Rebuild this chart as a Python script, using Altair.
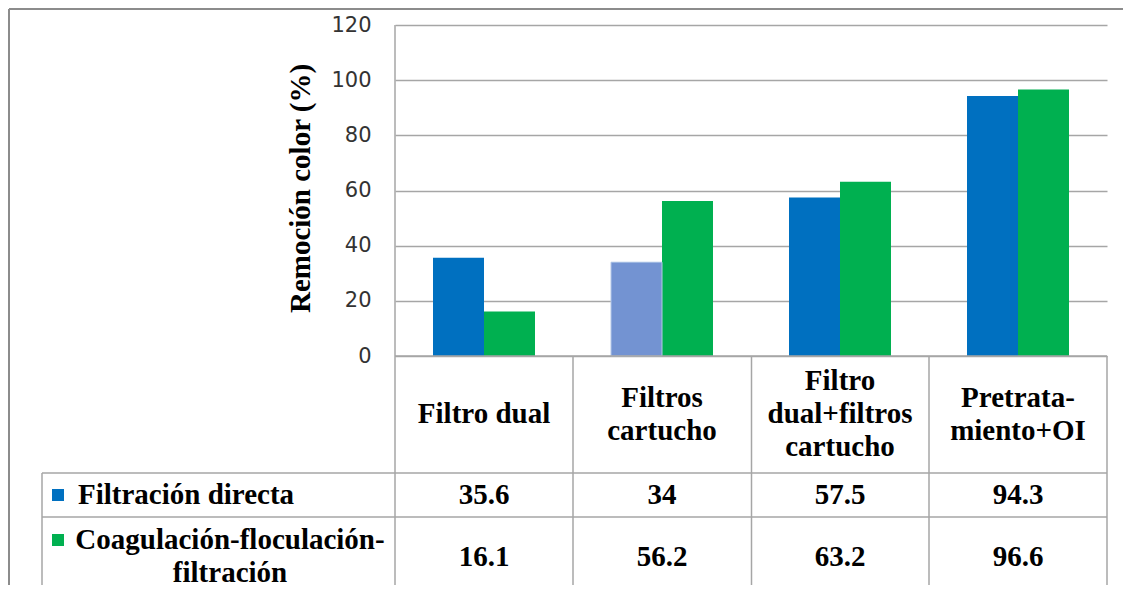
import altair as alt
import pandas as pd

categories = ["Filtro dual", "Filtros cartucho", "Filtro dual+filtros cartucho", "Pretratamiento+OI"]
header_labels = ["Filtro dual", "Filtros\ncartucho", "Filtro\ndual+filtros\ncartucho", "Pretrata-\nmiento+OI"]
series = ["Filtración directa", "Coagulación-floculación-filtración"]
series_labels = ["Filtración directa", "Coagulación-floculación-\nfiltración"]
filtracion_directa = [35.6, 34, 57.5, 94.3]
coagulacion = [16.1, 56.2, 63.2, 96.6]
y_ticks = [0, 20, 40, 60, 80, 100, 120]
colors = ["#0070C0", "#00B050"]

rows = []
for s, vals in zip(series, [filtracion_directa, coagulacion]):
    for c, v in zip(categories, vals):
        rows.append({"cat": c, "series": s, "value": v, "label": f"{v:g}"})
df = pd.DataFrame(rows)
hdr = pd.DataFrame({"cat": categories, "header": header_labels})
leg = pd.DataFrame({"series": series, "label": series_labels})
dummy = pd.DataFrame({"a": [0]})

SERIF = "Liberation Serif"
GRID = "#A6A6A6"
LINE_H = 33

xenc = alt.X("cat:N", scale=alt.Scale(domain=categories, paddingInner=0.427, paddingOuter=0.2135), axis=None)
xoff = alt.XOffset("series:N", scale=alt.Scale(domain=series, paddingInner=0, paddingOuter=0))
yenc = alt.Y(
    "value:Q",
    scale=alt.Scale(domain=[0, 120], nice=False),
    axis=alt.Axis(
        values=y_ticks, grid=True, gridColor=GRID, gridWidth=1.5, domain=False, ticks=False,
        labelFont="DejaVu Sans", labelFontSize=21, labelColor="#333333", labelPadding=24,
        title="Remoción color (%)", titleFont=SERIF, titleFontSize=29, titleFontWeight="bold",
        titleColor="black", titleX=-95, titleY=163, titleAlign="center", titleBaseline="middle",
        titleAngle=270,
    ),
)

bars = alt.Chart(df).mark_bar().encode(
    x=xenc, xOffset=xoff, y=yenc,
    color=alt.Color("series:N", scale=alt.Scale(domain=series, range=colors), legend=None),
)
patterned = alt.Chart(df).transform_filter(
    (alt.datum.cat == "Filtros cartucho") & (alt.datum.series == "Filtración directa")
).mark_bar(fill="#7393D2", stroke="#B4C7E7", strokeWidth=1).encode(x=xenc, xOffset=xoff, y="value:Q")

txt = dict(font=SERIF, fontSize=29, fontWeight="bold", color="black", baseline="middle")

headers = alt.Chart(hdr).transform_calculate(
    off="-(length(split(datum.header, '\\n')) - 1) * %f" % (LINE_H / 2)
).mark_text(lineBreak="\n", lineHeight=LINE_H, **txt).encode(
    x=xenc, y=alt.value(389), yOffset=alt.YOffset("off:Q", scale=None), text="header:N")
vals1 = alt.Chart(df).transform_filter(alt.datum.series == series[0]).mark_text(**txt).encode(
    x=xenc, y=alt.value(470), text="label:N")
vals2 = alt.Chart(df).transform_filter(alt.datum.series == series[1]).mark_text(**txt).encode(
    x=xenc, y=alt.value(532), text="label:N")

lab1 = alt.Chart(leg).transform_filter(alt.datum.series == series[0]).mark_text(align="left", **txt).encode(
    x=alt.value(-317), y=alt.value(470), text="label:N")
lab2 = alt.Chart(leg).transform_filter(alt.datum.series == series[1]).mark_text(
    align="center", lineBreak="\n", lineHeight=LINE_H, **txt).encode(
    x=alt.value(-165), y=alt.value(515), text="label:N")

mk1 = alt.Chart(dummy).mark_square(size=144, opacity=1, color=colors[0]).encode(
    x=alt.value(-337), y=alt.value(470))
mk2 = alt.Chart(dummy).mark_square(size=144, opacity=1, color=colors[1]).encode(
    x=alt.value(-337), y=alt.value(515))


def hline(y, x1, x2, color=GRID, w=1.5):
    return alt.Chart(dummy).mark_rule(color=color, strokeWidth=w).encode(
        x=alt.value(x1), x2=alt.value(x2), y=alt.value(y))


def vline(x, y1, y2, color=GRID, w=1.5):
    return alt.Chart(dummy).mark_rule(color=color, strokeWidth=w).encode(
        x=alt.value(x), y=alt.value(y1), y2=alt.value(y2))


lines = [
    hline(331, 0, 712), hline(448, -353, 712), hline(492, -353, 712),
    vline(0, 0, 560), vline(178, 331, 560), vline(356.5, 331, 560), vline(534, 331, 560),
    vline(712, 331, 560), vline(-353, 448, 560),
    vline(-386, -16, 560, "#8C8C8C", 2), hline(-16, -386, 728, "#8C8C8C", 2),
]

chart = alt.layer(
    bars, patterned, *lines, headers, vals1, vals2, lab1, lab2, mk1, mk2
).properties(
    width=712, height=331,
    padding={"left": 387, "top": 17, "right": 16, "bottom": 229},
    autosize=alt.AutoSizeParams(type="none"),
).configure_view(stroke=None)

chart.save("out.html", embed_options={"renderer": "svg", "actions": False})
